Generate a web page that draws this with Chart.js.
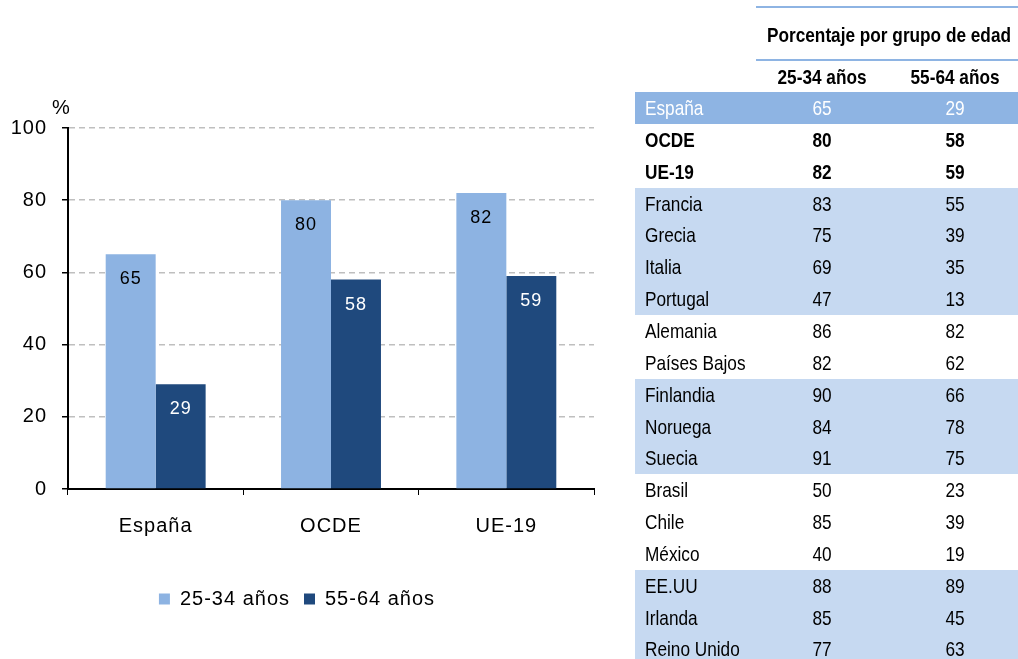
<!DOCTYPE html>
<html>
<head>
<meta charset="utf-8">
<script src="https://cdn.jsdelivr.net/npm/chart.js@4"></script>
<style>
  html, body { margin: 0; padding: 0; background: #fff; }
  #wrap { position: relative; width: 1018px; height: 659px; overflow: hidden; }
  #chartBox { position: absolute; left: 0; top: 0; width: 620px; height: 659px; }
  #pct { position: absolute; left: 52px; top: 96px; font: 20px "Liberation Sans", Arial, sans-serif; color: #000; }
  #tbl { position: absolute; left: 0; top: 0; width: 1018px; height: 659px;
         font-family: "Liberation Sans", Arial, sans-serif; font-size: 21px; color: #000; }
  .hline { position: absolute; left: 756px; width: 262px; height: 2px; background: #8eb4e3; }
  .txt { position: absolute; white-space: nowrap; line-height: 22px; }
  .l { transform-origin: left center; transform: scaleX(0.82); }
  .c { transform-origin: center center; transform: translateX(-50%) scaleX(0.82); }
  .band { position: absolute; left: 635px; width: 383px; }
</style>
</head>
<body>
<div id="wrap">
  <div id="chartBox"><canvas id="eduChart"></canvas></div>
  <div id="pct">%</div>
  <div id="tbl"></div>
</div>
<script>
// chart data
const categories = ['España', 'OCDE', 'UE-19'];
const seriesNames = ['25-34 años', '55-64 años'];
const young = [65, 80, 82];
const old = [29, 58, 59];
const yTicks = [0, 20, 40, 60, 80, 100];

// table data
const tableTitle = 'Porcentaje por grupo de edad';
const tableRows = ['España', 'OCDE', 'UE-19', 'Francia', 'Grecia', 'Italia', 'Portugal',
  'Alemania', 'Países Bajos', 'Finlandia', 'Noruega', 'Suecia', 'Brasil', 'Chile', 'México',
  'EE.UU', 'Irlanda', 'Reino Unido'];
const table2534 = [65, 80, 82, 83, 75, 69, 47, 86, 82, 90, 84, 91, 50, 85, 40, 88, 85, 77];
const table5564 = [29, 58, 59, 55, 39, 35, 13, 82, 62, 66, 78, 75, 23, 39, 19, 89, 45, 63];

const LIGHT = '#8db3e2', DARK = '#1f497d';
const FONT = '"Liberation Sans", Arial, sans-serif';

// table
(function buildTable() {
    const t = document.getElementById('tbl');
    const rowTop = 92, rowH = 31.85;
    const add = (html) => t.insertAdjacentHTML('beforeend', html);
    // bands: [firstRow, lastRow, colour]
    const bands = [[0, 0, '#8eb4e3'], [3, 6, '#c6d9f1'], [9, 11, '#c6d9f1'], [15, 17, '#c6d9f1']];
    bands.forEach(([a, b, c]) => {
        add(`<div class="band" style="top:${rowTop + a * rowH}px;height:${(b - a + 1) * rowH}px;background:${c}"></div>`);
    });
    add('<div class="hline" style="top:6px"></div>');
    add('<div class="hline" style="top:59px"></div>');
    add(`<div class="txt c" style="left:889px;top:24px;font-weight:bold">${tableTitle}</div>`);
    add(`<div class="txt c" style="left:822px;top:66px;font-weight:bold">${seriesNames[0]}</div>`);
    add(`<div class="txt c" style="left:955px;top:66px;font-weight:bold">${seriesNames[1]}</div>`);
    tableRows.forEach((name, i) => {
        const y = rowTop + i * rowH + 5;
        const col = i === 0 ? '#fff' : '#000';
        const fw = (i === 1 || i === 2) ? 'bold' : 'normal';
        const st = `top:${y}px;color:${col};font-weight:${fw}`;
        add(`<div class="txt l" style="left:645px;${st}">${name}</div>`);
        add(`<div class="txt c" style="left:822px;${st}">${table2534[i]}</div>`);
        add(`<div class="txt c" style="left:955px;${st}">${table5564[i]}</div>`);
    });
})();

// wider letter spacing, like the original's rendering
const spacing = {
    id: 'spacing',
    beforeUpdate(chart) { chart.ctx.letterSpacing = '1px'; },
    beforeDraw(chart) { chart.ctx.letterSpacing = '1px'; }
};

// value labels inside bars
const barLabels = {
    id: 'barLabels',
    afterDatasetsDraw(chart) {
        const ctx = chart.ctx;
        ctx.save();
        ctx.font = '18px ' + FONT;
        ctx.textAlign = 'center';
        ctx.textBaseline = 'middle';
        chart.data.datasets.forEach((ds, di) => {
            const meta = chart.getDatasetMeta(di);
            ctx.fillStyle = di === 0 ? '#000' : '#fff';
            meta.data.forEach((bar, i) => {
                ctx.fillText(ds.data[i], bar.x, bar.y + 25);
            });
        });
        ctx.restore();
    }
};

new Chart(document.getElementById('eduChart'), {
    type: 'bar',
    data: {
        labels: categories,
        datasets: [
            { label: seriesNames[0], data: young, backgroundColor: LIGHT, borderWidth: 0 },
            { label: seriesNames[1], data: old, backgroundColor: DARK, borderWidth: 0 }
        ]
    },
    options: {
        responsive: true, maintainAspectRatio: false, animation: false,
        layout: { padding: { top: 128, right: 26, left: 0, bottom: 40 } },
        datasets: { bar: { categoryPercentage: 0.57, barPercentage: 1 } },
        plugins: {
            tooltip: { enabled: false },
            legend: {
                position: 'bottom',
                labels: { font: { family: FONT, size: 20 }, color: '#000', boxWidth: 11, boxHeight: 11, padding: 14 }
            }
        },
        scales: {
            x: {
                afterFit: s => { s.height = 86; },
                border: { color: '#000', width: 2 },
                grid: { offset: true, drawOnChartArea: false, color: '#000', tickLength: 6 },
                ticks: { font: { family: FONT, size: 20 }, color: '#000', padding: 19 }
            },
            y: {
                min: 0, max: 100,
                afterFit: s => { s.width = 68; },
                afterBuildTicks: s => { s.ticks = yTicks.map(v => ({ value: v })); },
                border: { color: '#000', width: 2 },
                grid: {
                    color: ctx => ctx.tick && ctx.tick.value === 0 ? 'rgba(0,0,0,0)' : '#bfbfbf',
                    tickColor: '#000', tickLength: 6, lineWidth: 1.5
                },
                ticks: { font: { family: FONT, size: 20 }, color: '#000', padding: 15 }
            }
        }
    },
    plugins: [spacing, barLabels, {
        id: 'dashGrid',
        beforeDraw(chart) { chart.options.scales.y.border.dash = [6, 4]; }
    }]
});
</script>
</body>
</html>
